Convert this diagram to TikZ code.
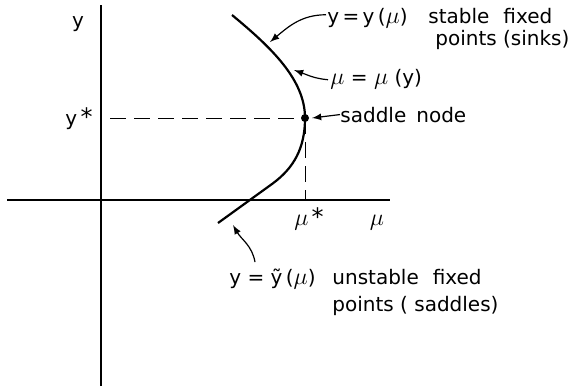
\documentclass[tikz,border=0pt]{standalone}
\usepackage{fontspec}
\setmainfont{DejaVu Sans}
\newcommand{\mmu}{\mbox{\fontsize{12.5}{12}\selectfont$\mu$}}
\begin{document}
\begin{tikzpicture}[x=0.5pt, y=-0.5pt, font=\fontsize{10}{12}\selectfont]
    \begin{scope}
        \useasboundingbox (0,0) rectangle (572,388);
        %Achsen
        \coordinate (xl) at (7,200); \coordinate (xr) at (390,200);
        \coordinate (yu) at (101,386); \coordinate (yo) at (101,5);
        \draw[line width=0.7pt] (xl) -- (xr); %x-Achse
        \draw[line width=0.7pt] (yu) -- (yo); %y-Achse
        %Sattelpunkt
        \coordinate (S) at (305,118);
        \coordinate (Sy) at (110,118);
        \coordinate (Sx) at (305,200);
        \draw[line width=0.5pt, dash pattern=on 8pt off 4pt] (Sy) -- (S);
        \draw[line width=0.5pt, dash pattern=on 8pt off 4pt] (S) -- (Sx);
        \fill (S) circle[radius=2pt];

        %Kurve, qualitativ!
        \draw[line width=1.1pt] (232,15) .. controls (272,48) and (305,80) .. (S)
            .. controls (305,148) and (294,168) .. (272,184) -- (218,223);

        %Beschriftung
        \node[anchor=base] (ly) at (78,27) {y};
        \node[anchor=base] (lys) at (79,125) {y\,{\large*}};
        \node[anchor=base] (lmus) at (309,225) {\mmu\,{\large*}};
        \node[anchor=base] (lmu) at (377,225) {\mmu};

        \node[anchor=base west, inner sep=0pt] (eqA) at (327,23) {y\,=\,y\,(\mmu)};
        \node[anchor=base west, inner sep=0pt] (stab) at (428,23) {stable\hspace{0.7em}fixed};
        \node[anchor=base west, inner sep=0pt] (sink) at (435,45) {points (sinks)};
        \node[anchor=base west, inner sep=0pt] (eqB) at (330,84) {\mmu\ = \mmu\ (y)};
        \node[anchor=base west, inner sep=0pt] (sdl) at (340,122) {saddle\hspace{0.5em}node};
        \node[anchor=base west, inner sep=0pt] (eqC) at (229,284) {y = \~{y}\,(\mmu)};
        \node[anchor=base west, inner sep=0pt] (unst) at (332,284) {unstable\hspace{0.7em}fixed};
        \node[anchor=base west, inner sep=0pt] (sadd) at (332,311) {points ( saddles)};

        %Pfeile
        \coordinate (tA) at (270,42);
        \coordinate (tB) at (294,70);
        \coordinate (tS) at (312,118);
        \coordinate (tC) at (233,225);
        \draw[line width=0.6pt, -latex] ([shift={(-1,-3)}]eqA.west) to[out=180, in=40] (tA);
        \draw[line width=0.6pt, -latex] ([shift={(-2,1)}]eqB.west) to[out=175, in=-20] (tB);
        \draw[line width=0.6pt, -latex] (sdl.west) -- (tS);
        \draw[line width=0.6pt, -latex] ([shift={(26,-6)}]eqC.north west) to[out=100, in=-60] (tC);
    \end{scope}
\end{tikzpicture}
\end{document}
